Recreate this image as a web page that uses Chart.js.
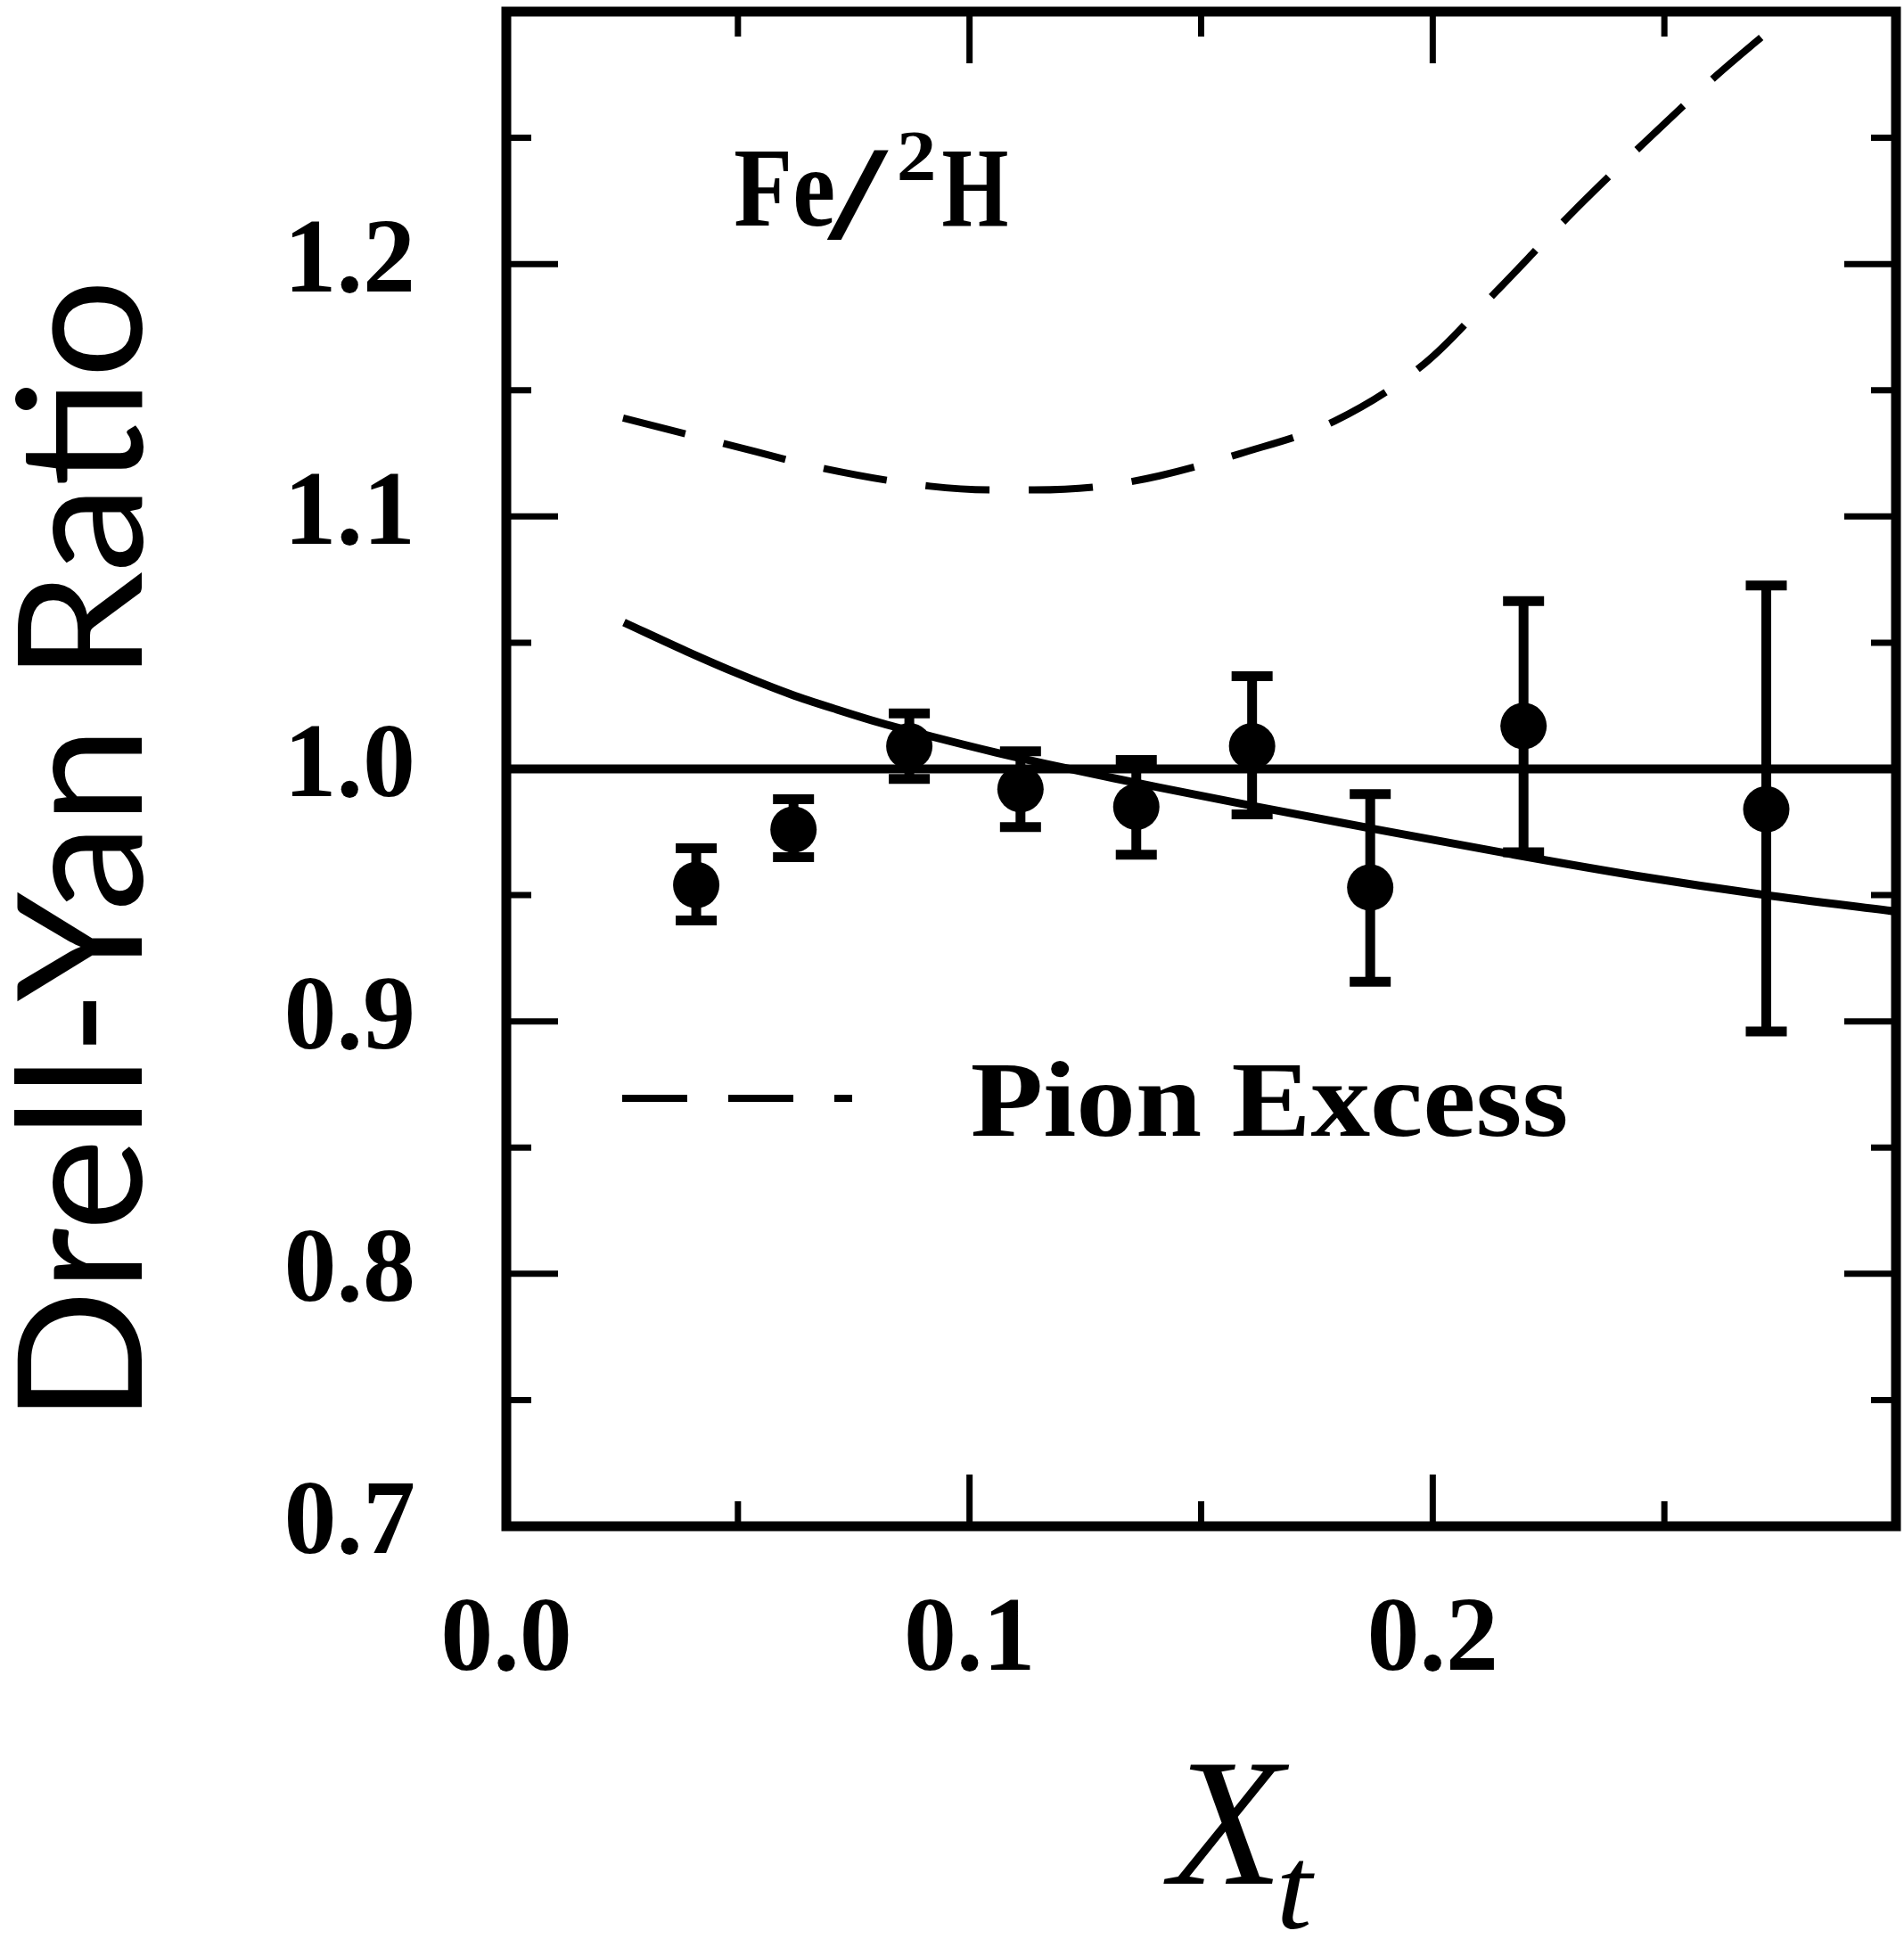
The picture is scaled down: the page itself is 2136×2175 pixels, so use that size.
<!DOCTYPE html>
<html>
<head>
<meta charset="utf-8">
<script src="https://cdn.jsdelivr.net/npm/chart.js@4/dist/chart.umd.min.js"></script>
<style>
  html, body { margin: 0; padding: 0; background: #fff; }
  canvas { display: block; }
</style>
</head>
<body>
<canvas id="dyChart" width="2136" height="2175"></canvas>
<script>
// measured points (x_t, ratio) with error bar ends
const pointX = [0.041, 0.062, 0.087, 0.111, 0.136, 0.161, 0.1865, 0.2196, 0.272];
const pointY = [0.954, 0.976, 1.009, 0.992, 0.985, 1.009, 0.953, 1.017, 0.984];
const errHigh = [0.9686, 0.988, 1.022, 1.007, 1.0035, 1.0367, 0.990, 1.0665, 1.0727];
const errLow = [0.940, 0.965, 0.996, 0.977, 0.966, 0.982, 0.9157, 0.967, 0.896];

// solid theory curve
const curveX = [0.0254, 0.039, 0.0497, 0.0615, 0.0714, 0.0812, 0.0919, 0.1057, 0.1165, 0.1312, 0.141, 0.1615, 0.1865, 0.2167, 0.2435, 0.2712, 0.3];
const curveY = [1.058, 1.0465, 1.038, 1.0295, 1.0235, 1.018, 1.0128, 1.0065, 1.002, 0.9963, 0.9926, 0.9852, 0.9765, 0.9663, 0.9578, 0.9502, 0.9435];

// dashed "Pion Excess" curve
const pionX = [0.0252, 0.0468, 0.0689, 0.0915, 0.1052, 0.114, 0.1277, 0.141, 0.1584, 0.1788, 0.1984, 0.2137, 0.2296, 0.2455, 0.2614, 0.2722];
const pionY = [1.139, 1.129, 1.1189, 1.112, 1.1105, 1.1105, 1.1118, 1.1161, 1.1249, 1.1378, 1.1608, 1.1891, 1.2194, 1.2478, 1.2749, 1.2918];

// unity line
const unityX = [0, 0.3];
const unityY = [1.0, 1.0];

// axis ticks
const xMajorTicks = [0.1, 0.2];
const xMinorTicks = [0.05, 0.15, 0.25];
const yMajorTicks = [0.8, 0.9, 1.0, 1.1, 1.2];
const yMinorTicks = [0.75, 0.85, 0.95, 1.05, 1.15, 1.25];

const serif = '"Liberation Serif", "Times New Roman", serif';

function toPoints(xs, ys) {
    return xs.map((x, i) => ({ x: x, y: ys[i] }));
}

// draws text so that its ink starts at "left", optionally squeezed to "width"
function drawInk(ctx, text, font, left, baseline, width) {
    ctx.save();
    ctx.font = font;
    ctx.textAlign = 'left';
    ctx.textBaseline = 'alphabetic';
    const m = ctx.measureText(text);
    const inkW = m.actualBoundingBoxLeft + m.actualBoundingBoxRight;
    const sx = width ? width / inkW : 1;
    ctx.translate(left, baseline);
    ctx.scale(sx, 1);
    ctx.fillStyle = '#000';
    ctx.fillText(text, m.actualBoundingBoxLeft, 0);
    ctx.restore();
}

const errorBarPlugin = {
    id: 'errorBars',
    afterDatasetsDraw(chart) {
        const ctx = chart.ctx;
        const xs = chart.scales.x;
        const ys = chart.scales.y;
        ctx.save();
        ctx.strokeStyle = '#000';
        ctx.lineCap = 'butt';
        pointX.forEach((x, i) => {
            const px = xs.getPixelForValue(x);
            const pTop = ys.getPixelForValue(errHigh[i]);
            const pBot = ys.getPixelForValue(errLow[i]);
            ctx.lineWidth = 11;
            ctx.beginPath();
            ctx.moveTo(px, pTop);
            ctx.lineTo(px, pBot);
            ctx.stroke();
            // caps
            ctx.lineWidth = 11;
            ctx.beginPath();
            ctx.moveTo(px - 23, pTop);
            ctx.lineTo(px + 23, pTop);
            ctx.moveTo(px - 23, pBot);
            ctx.lineTo(px + 23, pBot);
            ctx.stroke();
        });
        ctx.restore();
    }
};

const framePlugin = {
    id: 'frame',
    afterDraw(chart) {
        const ctx = chart.ctx;
        const { left, right, top, bottom } = chart.chartArea;
        const xs = chart.scales.x;
        const ys = chart.scales.y;
        ctx.save();
        ctx.strokeStyle = '#000';
        ctx.lineJoin = 'miter';
        ctx.lineWidth = 11;
        ctx.strokeRect(left, top, right - left, bottom - top);

        // inward ticks on all four sides
        ctx.lineWidth = 7;
        ctx.beginPath();
        const xTick = (v, len) => {
            const p = xs.getPixelForValue(v);
            ctx.moveTo(p, bottom); ctx.lineTo(p, bottom - len);
            ctx.moveTo(p, top); ctx.lineTo(p, top + len);
        };
        const yTick = (v, len) => {
            const p = ys.getPixelForValue(v);
            ctx.moveTo(left, p); ctx.lineTo(left + len, p);
            ctx.moveTo(right, p); ctx.lineTo(right - len, p);
        };
        xMajorTicks.forEach(v => xTick(v, 58));
        xMinorTicks.forEach(v => xTick(v, 28));
        yMajorTicks.forEach(v => yTick(v, 58));
        yMinorTicks.forEach(v => yTick(v, 28));
        ctx.stroke();

        // legend sample for the dashed curve
        ctx.lineWidth = 8;
        ctx.setLineDash([73, 46]);
        ctx.beginPath();
        ctx.moveTo(698, 1232);
        ctx.lineTo(956, 1232);
        ctx.stroke();
        ctx.setLineDash([]);
        ctx.restore();

        // texts
        drawInk(ctx, 'Pion Excess', 'bold 121px ' + serif, 1091, 1274, 666);
        drawInk(ctx, 'Fe', 'bold 127px ' + serif, 825, 253, 110);
        drawInk(ctx, '/', 'bold 150px ' + serif, 927, 268, 71);
        drawInk(ctx, '2', 'bold 80px ' + serif, 1009, 202, 38);
        drawInk(ctx, 'H', 'bold 127px ' + serif, 1058, 253, 72);

        // x axis title: X with subscript t
        drawInk(ctx, 'X', 'italic 204px ' + serif, 1305, 2113, 142);
        drawInk(ctx, 't', 'italic 134px ' + serif, 1437, 2163, 38);

        // y axis title, rotated
        ctx.save();
        ctx.translate(159, 1579);
        ctx.rotate(-Math.PI / 2);
        drawInk(ctx, 'Drell-Yan Ratio', '194px Lato, "Open Sans", sans-serif', 0, 0, 1258);
        ctx.restore();
    }
};

const tickFont = { family: serif, weight: 'bold', size: 118, lineHeight: 1.2 };

const ctx = document.getElementById('dyChart').getContext('2d');
const myChart = new Chart(ctx, {
    type: 'scatter',
    data: {
        datasets: [
            {
                label: 'unity',
                data: toPoints(unityX, unityY),
                showLine: true,
                borderColor: '#000',
                borderWidth: 10,
                pointRadius: 0,
                fill: false
            },
            {
                label: 'theory',
                data: toPoints(curveX, curveY),
                showLine: true,
                borderColor: '#000',
                borderWidth: 9,
                pointRadius: 0,
                cubicInterpolationMode: 'monotone',
                fill: false
            },
            {
                label: 'Pion Excess',
                data: toPoints(pionX, pionY),
                showLine: true,
                borderColor: '#000',
                borderWidth: 8,
                borderDash: [72, 44],
                pointRadius: 0,
                cubicInterpolationMode: 'monotone',
                fill: false
            },
            {
                label: 'Fe/2H data',
                data: toPoints(pointX, pointY),
                showLine: false,
                pointRadius: 26,
                pointBackgroundColor: '#000',
                pointBorderColor: '#000',
                pointBorderWidth: 0
            }
        ]
    },
    options: {
        responsive: false,
        animation: false,
        layout: { autoPadding: false, padding: { top: 13, right: 9, left: 0, bottom: 0 } },
        plugins: {
            legend: { display: false },
            tooltip: { enabled: false }
        },
        scales: {
            x: {
                type: 'linear',
                min: 0,
                max: 0.3,
                afterFit: s => { s.height = 463; s.paddingLeft = 0; s.paddingRight = 0; },
                grid: { display: false, drawTicks: false },
                border: { display: false },
                ticks: {
                    stepSize: 0.1,
                    padding: 60,
                    color: '#000',
                    font: tickFont,
                    maxRotation: 0,
                    autoSkip: false,
                    callback: v => (v > 0.25 ? '' : v.toFixed(1))
                }
            },
            y: {
                type: 'linear',
                min: 0.7,
                max: 1.3,
                afterFit: s => { s.width = 568; s.paddingTop = 0; s.paddingBottom = 0; },
                grid: { display: false, drawTicks: false },
                border: { display: false },
                ticks: {
                    stepSize: 0.1,
                    padding: 102,
                    color: '#000',
                    font: tickFont,
                    autoSkip: false,
                    callback: v => (v > 1.25 ? '' : v.toFixed(1))
                }
            }
        }
    },
    plugins: [errorBarPlugin, framePlugin]
});
</script>
</body>
</html>
